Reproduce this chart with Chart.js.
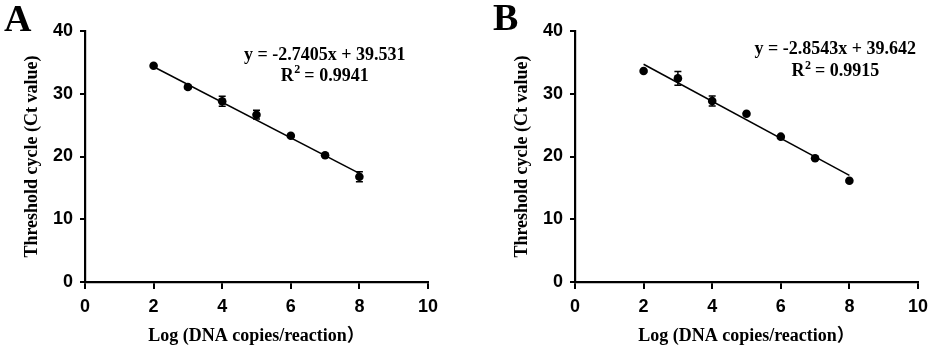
<!DOCTYPE html>
<html><head><meta charset="utf-8">
<script src="https://cdn.jsdelivr.net/npm/chart.js@4"></script>
<style>
html,body{margin:0;padding:0;background:#fff;}
#wrap{position:relative;width:935px;height:350px;overflow:hidden;background:#fff;}
.pane{position:absolute;top:0;width:445px;height:350px;}
</style></head><body>
<div id="wrap">
<div class="pane" style="left:0"><canvas id="cA" width="445" height="350"></canvas></div>
<div class="pane" style="left:490px"><canvas id="cB" width="445" height="350"></canvas></div>
</div>
<script>
// ---- data ----
const logCopies = [2, 3, 4, 5, 6, 7, 8];
const ctA = [34.47, 31.08, 28.80, 26.66, 23.31, 20.19, 16.78];
const errA = [0.2, 0.3, 0.8, 0.7, 0.2, 0.2, 0.8];
const ctB = [33.63, 32.45, 28.84, 26.82, 23.16, 19.71, 16.14];
const errB = [0.2, 1.1, 0.8, 0.2, 0.2, 0.2, 0.2];
const fitX = [2, 8];
const fitA = [34.3, 17.3];
const fitB = [34.7, 17.0];
const xTicks = [0, 2, 4, 6, 8, 10];
const yTicks = [0, 10, 20, 30, 40];
const eqA = ['y = -2.7405x + 39.531', '0.9941'];
const eqB = ['y = -2.8543x + 39.642', '0.9915'];
const panelLabels = ['A', 'B'];
const xTitle = 'Log (DNA copies/reaction）';
const yTitle = 'Threshold cycle (Ct value)';

const SERIF = '"Liberation Serif", "Noto Sans CJK SC", serif';
const SANS = '"Liberation Sans", Arial, sans-serif';

const overlay = {
  id: 'overlay',
  afterDatasetsDraw(chart, args, opts) {
    const ctx = chart.ctx, xs = chart.scales.x, ys = chart.scales.y;
    ctx.save();
    ctx.strokeStyle = '#000';
    ctx.lineWidth = 1.5;
    opts.values.forEach((v, i) => {
      const e = opts.errors[i];
      const px = xs.getPixelForValue(opts.xs[i]);
      const y1 = ys.getPixelForValue(v + e), y2 = ys.getPixelForValue(v - e);
      ctx.beginPath();
      ctx.moveTo(px, y1); ctx.lineTo(px, y2);
      ctx.moveTo(px - 3.5, y1); ctx.lineTo(px + 3.5, y1);
      ctx.moveTo(px - 3.5, y2); ctx.lineTo(px + 3.5, y2);
      ctx.stroke();
    });
    ctx.fillStyle = '#000';
    ctx.font = 'bold 18px ' + SERIF;
    ctx.textBaseline = 'middle';
    ctx.textAlign = 'center';
    const cx = xs.getPixelForValue(opts.eqPos[0]);
    ctx.fillText(opts.eq[0], cx, ys.getPixelForValue(opts.eqPos[1]));
    const r2y = ys.getPixelForValue(opts.eqPos[2]);
    const p1 = 'R', sup = '2', p2 = ' = ' + opts.eq[1];
    ctx.textAlign = 'left';
    const w1 = ctx.measureText(p1).width, w3 = ctx.measureText(p2).width;
    ctx.font = 'bold 12px ' + SERIF;
    const w2 = ctx.measureText(sup).width;
    const x0 = cx - (w1 + w2 + w3) / 2;
    ctx.font = 'bold 18px ' + SERIF;
    ctx.fillText(p1, x0, r2y);
    ctx.font = 'bold 12px ' + SERIF;
    ctx.fillText(sup, x0 + w1 + 0.5, r2y - 6);
    ctx.font = 'bold 18px ' + SERIF;
    ctx.fillText(p2, x0 + w1 + w2, r2y);
    ctx.font = 'bold 38px ' + SERIF;
    ctx.textBaseline = 'alphabetic';
    ctx.fillText(opts.label, opts.labelPos[0], opts.labelPos[1]);
    ctx.restore();
  }
};

function makeChart(id, ct, err, fit, eq, eqPos, label, labelPos) {
  return new Chart(document.getElementById(id), {
    type: 'scatter',
    data: {
      datasets: [
        { type: 'line', data: fitX.map((x, i) => ({ x, y: fit[i] })), borderColor: '#000', borderWidth: 1.5,
          pointRadius: 0, fill: false, order: 1 },
        { data: logCopies.map((x, i) => ({ x, y: ct[i] })), backgroundColor: '#000', borderColor: '#000',
          pointRadius: 4.3, pointHoverRadius: 4.3, borderWidth: 0, order: 0 }
      ]
    },
    options: {
      responsive: false, animation: false, events: [],
      layout: { padding: { left: 0, right: 13, top: 31, bottom: 0 } },
      plugins: {
        legend: { display: false }, tooltip: { enabled: false },
        overlay: { xs: logCopies, values: ct, errors: err, eq, eqPos, label, labelPos }
      },
      scales: {
        x: {
          type: 'linear', min: 0, max: 10,
          afterBuildTicks: s => { s.ticks = xTicks.map(v => ({ value: v })); },
          border: { display: true, color: '#000', width: 2.2 },
          grid: { display: true, drawOnChartArea: false, drawTicks: true, tickLength: 7, color: '#000', lineWidth: 2 },
          ticks: { color: '#000', font: { family: SANS, size: 18, weight: 'bold' }, padding: 7, maxRotation: 0, autoSkip: false },
          title: { display: true, text: xTitle, color: '#000', font: { family: SERIF, size: 18, weight: 'bold' }, padding: { top: 0, bottom: 3 } },
          afterFit: s => { s.height = 68; }
        },
        y: {
          type: 'linear', min: 0, max: 40,
          afterBuildTicks: s => { s.ticks = yTicks.map(v => ({ value: v })); },
          border: { display: true, color: '#000', width: 2.2 },
          grid: { display: true, drawOnChartArea: false, drawTicks: true, tickLength: 5, color: '#000', lineWidth: 2 },
          ticks: { color: '#000', font: { family: SANS, size: 18, weight: 'bold' }, padding: 7, autoSkip: false },
          title: { display: true, text: yTitle, color: '#000', font: { family: SERIF, size: 18, weight: 'bold' }, padding: { top: 22, bottom: 0 } },
          afterFit: s => { s.width = 85; }
        }
      }
    },
    plugins: [overlay]
  });
}

makeChart('cA', ctA, errA, fitA, eqA, [6.99, 36.2, 32.8], panelLabels[0], [4, 31]);
makeChart('cB', ctB, errB, fitB, eqB, [7.59, 37.1, 33.5], panelLabels[1], [3, 29.5]);
</script>
</body></html>
